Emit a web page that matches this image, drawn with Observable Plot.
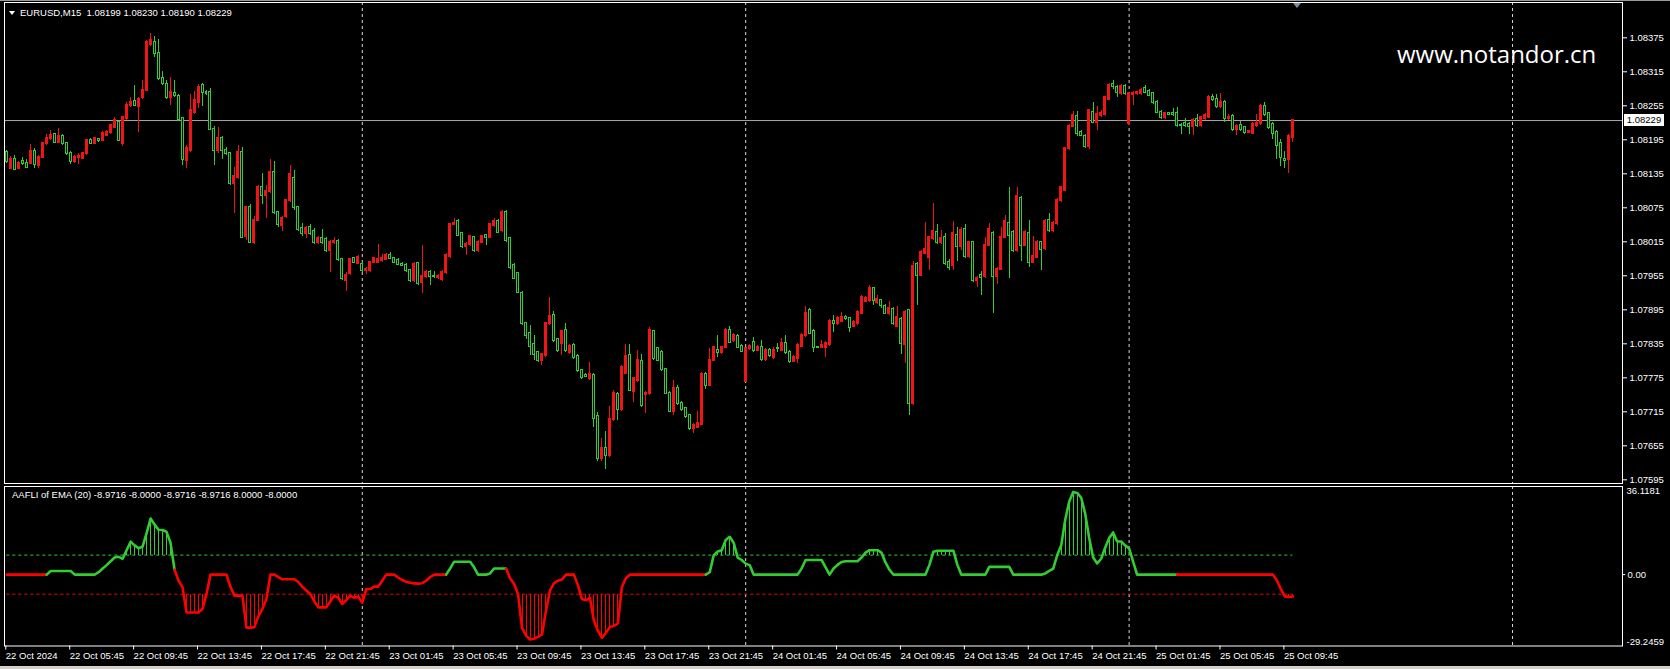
<!DOCTYPE html>
<html><head><meta charset="utf-8">
<script src="https://cdn.jsdelivr.net/npm/d3@7"></script>
<script src="https://cdn.jsdelivr.net/npm/@observablehq/plot@0.6"></script>
<style>
html,body{margin:0;padding:0;background:#000;}
#wrap{position:relative;width:1670px;height:669px;overflow:hidden;background:#000;font-family:"Liberation Sans",Arial,sans-serif;}
#wrap svg{position:absolute;left:0;}
.lbl{position:absolute;color:#fff;font-size:9.5px;white-space:pre;line-height:11px;}
</style></head><body><div id="wrap"></div>
<script>
// ---- data (prices in points above 1.07500) ----
const OPEN = [673,644,660,644,657,654,654,674,650,664,688,697,704,691,701,688,671,657,664,662,670,694,689,695,694,703,708,717,726,689,732,755,762,754,769,782,864,867,848,804,793,770,777,771,732,658,676,744,761,791,779,779,714,676,697,676,671,618,629,673,524,576,514,553,611,597,603,638,567,544,559,588,626,576,538,529,541,534,513,520,519,500,513,516,483,447,459,485,477,475,464,464,478,479,482,484,491,485,482,475,474,464,447,476,443,454,461,454,452,448,461,489,546,550,529,506,510,522,500,514,526,523,544,551,535,566,520,473,459,424,370,354,334,320,306,314,370,385,342,336,359,320,332,313,288,279,273,279,206,132,151,138,201,246,219,283,314,250,270,304,246,247,356,326,320,289,248,216,257,230,220,209,185,188,193,281,262,306,324,320,328,359,340,348,330,269,326,338,324,329,307,324,311,326,324,335,320,304,309,330,350,394,356,329,328,329,333,375,370,375,382,379,366,370,389,410,411,432,408,411,401,388,396,366,378,334,393,229,475,456,495,487,520,531,514,523,479,473,527,506,536,489,513,446,456,453,509,530,453,467,523,547,532,500,591,509,529,479,488,513,503,553,535,547,588,606,679,719,736,708,701,683,744,726,738,740,767,792,787,776,789,723,775,776,776,785,781,776,761,744,734,741,742,741,721,724,722,719,730,720,732,735,769,767,753,761,732,736,714,720,716,708,707,720,723,754,741,722,708,688,661,660,699];
const CLOSE = [656,661,642,654,654,647,674,652,664,688,697,703,691,701,688,671,657,664,666,671,694,688,697,693,706,708,720,729,694,734,756,761,756,767,782,867,870,847,803,794,770,779,773,730,660,679,746,764,788,779,776,714,676,697,676,671,618,630,673,523,576,514,553,611,597,603,638,566,546,557,588,634,576,536,529,538,529,514,520,513,500,514,516,483,450,456,483,479,488,464,466,478,485,484,485,491,485,479,475,474,464,447,475,441,454,461,453,453,453,461,491,546,548,526,507,510,524,500,514,524,522,546,550,532,567,517,470,451,426,370,350,330,317,306,316,371,384,341,324,357,323,330,311,288,275,277,281,203,132,151,138,201,247,219,293,313,253,273,306,226,248,359,309,306,289,248,216,257,229,219,207,185,191,194,281,262,306,328,319,328,359,338,350,329,322,326,330,324,329,307,324,314,324,326,336,320,304,311,332,350,389,354,329,328,332,336,374,370,379,381,379,364,373,391,417,415,433,411,413,403,389,397,370,381,335,391,230,471,456,497,501,522,534,514,520,476,470,529,506,535,489,513,447,450,452,509,536,453,467,523,551,526,500,595,509,532,479,489,514,501,551,535,547,588,610,679,719,738,707,703,683,746,726,740,742,769,791,789,779,789,777,776,777,778,782,779,774,761,744,734,741,740,740,720,721,720,719,729,720,734,738,770,766,753,761,732,735,714,719,713,708,709,722,724,754,740,717,707,685,664,659,701,729];
const HIGH = [676,665,667,657,664,660,686,680,667,690,704,712,707,715,704,691,674,668,670,673,696,697,699,698,710,712,722,735,729,736,760,770,790,770,800,870,882,877,872,815,800,805,800,775,735,685,775,780,792,795,782,785,718,717,700,682,673,646,685,682,578,580,560,615,635,614,660,657,569,560,590,650,640,578,548,542,545,538,525,537,522,518,522,519,486,460,486,488,491,478,470,481,488,510,492,495,496,488,485,478,477,466,478,479,508,465,465,462,458,464,494,548,556,555,531,513,527,525,517,527,528,548,556,555,570,570,522,476,461,427,372,368,350,322,318,373,417,392,345,359,370,333,336,316,290,282,302,282,214,168,180,225,252,249,296,333,333,276,323,317,251,363,359,329,323,291,251,271,261,233,222,211,194,216,284,284,327,331,350,331,362,366,353,351,333,329,333,347,332,340,327,327,329,335,345,350,323,314,335,353,400,397,360,331,340,339,378,385,384,390,385,382,376,394,420,418,438,435,420,413,404,410,399,400,381,394,396,481,478,500,549,525,582,545,535,530,483,550,540,540,545,516,516,453,462,523,547,534,470,540,561,610,535,610,595,535,553,525,517,516,555,565,550,591,613,682,722,745,745,711,704,749,760,754,746,772,794,799,790,792,792,779,780,781,785,790,784,779,764,747,744,743,750,752,724,733,725,732,740,737,742,773,775,775,777,764,740,739,722,727,719,712,725,740,757,761,744,725,711,696,674,704,730];
const LOW = [654,642,641,642,650,645,652,645,645,662,685,693,688,688,685,668,652,654,652,660,668,686,687,690,692,700,705,715,692,683,729,752,753,708,766,780,860,840,800,790,767,755,770,727,650,645,673,740,750,753,773,712,650,670,660,668,614,565,625,520,518,512,511,550,580,556,601,563,540,533,556,585,570,533,525,520,526,510,510,510,497,460,510,480,446,427,455,476,475,460,458,460,476,477,478,482,483,476,473,472,461,444,444,438,423,450,438,450,449,445,458,486,544,524,504,490,507,497,497,512,509,520,541,529,532,514,466,448,423,368,343,315,306,302,297,311,368,338,320,315,320,317,308,285,272,275,271,188,128,128,114,135,198,200,216,280,250,232,266,223,212,244,306,303,286,245,213,208,226,216,204,182,176,186,191,255,259,304,310,317,326,335,338,326,319,266,324,320,321,304,304,311,308,320,322,317,300,302,300,328,347,351,320,326,326,310,330,355,367,372,376,355,363,367,386,408,408,402,405,398,386,385,367,363,317,300,208,226,403,453,492,464,517,510,511,473,465,465,480,500,486,486,444,434,420,450,506,388,440,464,520,450,497,497,480,506,470,476,485,465,500,532,532,544,585,603,676,716,700,700,680,678,723,712,735,737,764,783,770,773,774,720,755,774,773,776,771,758,741,730,731,738,737,717,705,716,705,703,717,717,729,732,763,750,750,726,729,710,702,710,705,706,704,717,720,737,714,695,660,648,645,636,690];
// AAFLI indicator values per bar
const AAFLI = [0,0,0,0,0,0,0,0,0,0, 0,1.5,1.5,1.5,1.5,1.5,1.5,0,0,0, 0,0,0,1,2.5,3.9,5.5,7,7.3,6.5, 10,13.5,12,10.8,11.5,17,23,20.5,18.4,18.3, 17.5,13,2,-2.5,-5.1,-15.5,-15.5,-15.5,-15.5,-14, -7.9,0,0,0,0,0,-5,-8.6,-8.6,-8.6, -21.7,-21.7,-21.5,-17,-14,-10,0,0,-1,-1.9, -1.9,-1.9,-1.9,-3,-5,-6.5,-8,-11,-13.4,-13.4, -13.4,-11,-8.6,-9.5,-12,-10.5,-8.6,-9.5,-9,-11.5, -5.9,-5.9,-4.9,-4.9,-2.5,0,0,0,-1.2,-2.2, -3,-3.3,-3.6,-3.7,-3.5,-2.5,-1,0,0,0, 0,2.5,5.3,5.3,5.3,5.3,5.3,3,0,0, 0,0.5,2.5,2.5,2.5,2.5,-1.5,-3.7,-8,-21.7, -25,-26.6,-26.3,-25.5,-24.5,-14.8,-6.5,-3.5,-2.5,-2, 0,0,0,-4.4,-10,-10.5,-9.5,-19,-23,-25.9, -23.8,-21.5,-21,-20,-5.1,-1.5,0,0,0,0, 0,0,0,0,0,0,0,0,0,0, 0,0,0,0,0,0,1,8,9.5,10, 14.2,15.5,13,7,6,4.5,3.9,0,0,0, 0,0,0,0,0,0,0,0,0,2.5, 6,6,6,6,6,3,0,2.5,4,5.2, 5.5,5.5,5.5,5.5,7,9,10,10,10,9, 5,2,0,0,0,0,0,0,0,0, 0,4,9.4,9.8,9.8,9.8,9.8,9.8,4,0, 0,0,0,0,0,0,3.2,3.2,3.2,3.2, 3.2,3.2,0,0,0,0,0,0,0,0, 0.5,1.5,2.5,8,12,22.5,30,33.9,33.5,31.5, 25,15,7,4.6,6.5,11,15,17.3,13.6,13.6, 12,10.8,5.3,0,0,0,0,0,0,0, 0,0,0,0,0,0,0,0,0,0, 0,0,0,0,0,0,0,0,0,0, 0,0,0,0,0,0,0,0,-2.4,-6, -8.9,-9.2,-8.97];
const SEG_START = [0, 11, 43, 111, 126, 176, 294];
const SEG_TREND = ["down","up","down","up","down","up","down"];
const TIME_LABELS = ["22 Oct 2024","22 Oct 05:45","22 Oct 09:45","22 Oct 13:45","22 Oct 17:45","22 Oct 21:45","23 Oct 01:45","23 Oct 05:45","23 Oct 09:45","23 Oct 13:45","23 Oct 17:45","23 Oct 21:45","24 Oct 01:45","24 Oct 05:45","24 Oct 09:45","24 Oct 13:45","24 Oct 17:45","24 Oct 21:45","25 Oct 01:45","25 Oct 05:45","25 Oct 09:45"];
const PRICE_TICKS = [1.08375,1.08315,1.08255,1.08195,1.08135,1.08075,1.08015,1.07955,1.07895,1.07835,1.07775,1.07715,1.07655,1.07595];
const DAY_SEPARATORS = [89, 185, 281, 377];
const IND_LABELS = ["36.1181","0.00","-29.2459"];
const IND_VALUES = [36.1181, 0, -29.2459];
const LAST_PRICE = 1.08229;
const LEVELS = [8, -8];

// ---- styling ----
const CUP = "#f01414", CDN = "#32cd32";
const LUP = "#32cd32", LDN = "#ff0000";
const FONT = "Liberation Sans, Arial, sans-serif";
const XD = [-0.576, 404.53];
const BASE = 1.075, PT = 1e-5;

const bars = CLOSE.map((c, i) => ({i, o: BASE + OPEN[i]*PT, h: BASE + HIGH[i]*PT, l: BASE + LOW[i]*PT, c: BASE + c*PT}));
const bull = d => d.c > d.o;

const lastBar = AAFLI.length - 1;
const linePts = [];
SEG_START.forEach((s, k) => {
  const e = k + 1 < SEG_START.length ? SEG_START[k+1] - 1 : lastBar;
  const col = SEG_TREND[k] === "up" ? LUP : LDN;
  for (let i = Math.max(0, s - 1); i <= e; i++) linePts.push({i, v: AAFLI[i], seg: k, col});
});
const hist = AAFLI.map((v, i) => ({i, v})).filter(d => Math.abs(d.v) > LEVELS[0])
  .map(d => ({...d, b: d.v > 0 ? LEVELS[0] : LEVELS[1], col: d.v > 0 ? LUP : LDN}));
const TICK_BARS = TIME_LABELS.map((_, k) => k * 16);

const wrap = document.getElementById("wrap");

const main = Plot.plot({
  width: 1670, height: 486, marginLeft: 4, marginRight: 48, marginTop: 2, marginBottom: 3,
  style: {background: "transparent", color: "#fff", fontFamily: FONT, fontSize: "9.5px"},
  x: {type: "linear", domain: XD, axis: null},
  y: {type: "linear", domain: [1.075885, 1.084373], axis: null},
  marks: [
    Plot.ruleX(DAY_SEPARATORS, {stroke: "#d8d8d8", strokeDasharray: "3,3"}),
    Plot.ruleY([LAST_PRICE], {stroke: "#a8a8a8"}),
    Plot.ruleX(bars, {x: "i", y1: "l", y2: "h", stroke: d => bull(d) ? CUP : CDN, shapeRendering: "crispEdges"}),
    Plot.rect(bars, {x1: d => d.i - 0.25, x2: d => d.i + 0.25, y1: "o", y2: "c", insetTop: -0.5, insetBottom: -0.5,
      fill: d => bull(d) ? CUP : "#000", stroke: d => bull(d) ? CUP : CDN, shapeRendering: "crispEdges"}),
    Plot.frame({stroke: "#fff"}),
    Plot.axisY(PRICE_TICKS, {anchor: "right", label: null, tickSize: 4, tickPadding: 3, fontSize: 9.5, tickFormat: d3.format(".5f")})
  ]
});
main.style.top = "0px";
wrap.appendChild(main);

const ind = Plot.plot({
  width: 1670, height: 185, marginLeft: 4, marginRight: 48, marginTop: 2, marginBottom: 23.5,
  style: {background: "transparent", color: "#fff", fontFamily: FONT, fontSize: "9.5px"},
  x: {type: "linear", domain: XD, axis: null},
  y: {type: "linear", domain: [-29.2459, 36.1181], axis: null},
  marks: [
    Plot.ruleX(DAY_SEPARATORS, {stroke: "#d8d8d8", strokeDasharray: "3,3"}),
    Plot.ruleY([LEVELS[0]], {x1: 0, x2: lastBar, stroke: LUP, strokeDasharray: "3,3"}),
    Plot.ruleY([LEVELS[1]], {x1: 0, x2: lastBar, stroke: LDN, strokeDasharray: "3,3"}),
    Plot.ruleX(hist, {x: "i", y1: "b", y2: "v", stroke: "col", shapeRendering: "crispEdges"}),
    Plot.line(linePts, {x: "i", y: "v", z: "seg", stroke: "col", strokeWidth: 2.6}),
    Plot.frame({stroke: "#fff"}),
    Plot.axisX(TICK_BARS, {anchor: "bottom", label: null, tickSize: 4, tickPadding: 2, fontSize: 9.5, textAnchor: "start", dx: -1,
      tickFormat: d => TIME_LABELS[TICK_BARS.indexOf(d)]}),
    Plot.text([IND_LABELS[0]], {y: () => IND_VALUES[0], frameAnchor: "right", dx: 4, dy: 1, textAnchor: "start", lineAnchor: "top", fill: "#fff", fontSize: 9.5}),
    Plot.text([IND_LABELS[1]], {y: () => IND_VALUES[1], frameAnchor: "right", dx: 5, textAnchor: "start", lineAnchor: "middle", fill: "#fff", fontSize: 9.5}),
    Plot.text([IND_LABELS[2]], {y: () => IND_VALUES[2], frameAnchor: "right", dx: 4, dy: -1, textAnchor: "start", lineAnchor: "bottom", fill: "#fff", fontSize: 9.5}),
    Plot.ruleY([IND_VALUES[1]], {x1: XD[1], x2: XD[1] + 0.8, stroke: "#fff"})
  ]
});
ind.style.top = "484px";
wrap.appendChild(ind);

// overlays
function addDiv(html, css, cls) {
  const d = document.createElement("div");
  if (cls) d.className = cls;
  d.innerHTML = html;
  Object.assign(d.style, css);
  wrap.appendChild(d);
  return d;
}
addDiv("EURUSD,M15  1.08199 1.08230 1.08190 1.08229", {left: "20px", top: "7px"}, "lbl");
addDiv("", {position: "absolute", left: "9px", top: "11px", width: "0", height: "0",
  borderLeft: "3.5px solid transparent", borderRight: "3.5px solid transparent", borderTop: "4px solid #fff"});
addDiv("AAFLI of EMA (20) -8.9716 -8.0000 -8.9716 -8.9716 8.0000 -8.0000", {left: "12px", top: "488.5px"}, "lbl");
addDiv("www.notandor.cn", {position: "absolute", left: "1397px", top: "38px", color: "#fff",
  fontFamily: "'Open Sans', 'Noto Sans', sans-serif", fontSize: "24px", lineHeight: "32px", whiteSpace: "pre"});
addDiv("", {position: "absolute", left: "1293px", top: "3px", width: "0", height: "0",
  borderLeft: "4.5px solid transparent", borderRight: "4.5px solid transparent", borderTop: "5px solid #7d8fa6"});
const yLast = main.scale("y").apply(LAST_PRICE);
addDiv("1.08229", {position: "absolute", left: "1624px", top: (yLast - 6) + "px", width: "40px", height: "12px",
  background: "#fff", color: "#000", fontSize: "9.5px", lineHeight: "12px", textAlign: "center"});
addDiv("", {position: "absolute", left: "0px", top: "0px", width: "1670px", height: "1px", background: "#9a9a9a"});
addDiv("", {position: "absolute", left: "0px", top: "666px", width: "1670px", height: "3px", background: "#d4d0c8"});
</script></body></html>
